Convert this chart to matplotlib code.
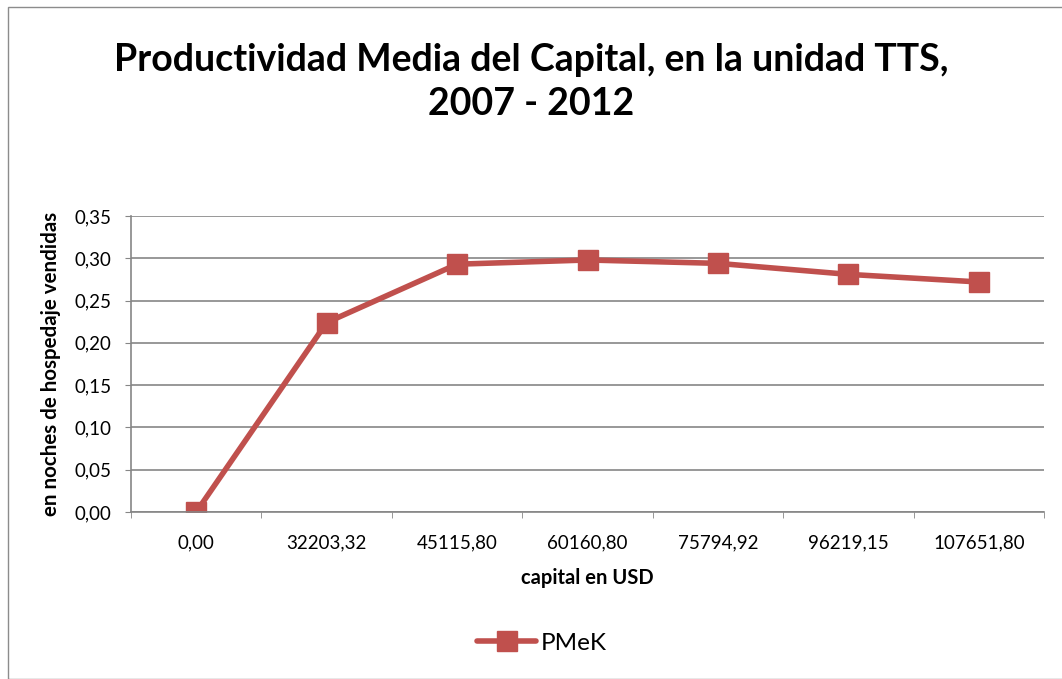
import matplotlib
matplotlib.use("Agg")
import matplotlib.pyplot as plt
from matplotlib.patches import Rectangle
from matplotlib.ticker import FixedLocator, FuncFormatter

# Capital (USD) categories and average productivity of capital
capital_labels = ["0,00", "32203,32", "45115,80", "60160,80", "75794,92", "96219,15", "107651,80"]
pmek = [0.0, 0.224, 0.293, 0.298, 0.294, 0.281, 0.272]
series_name = "PMeK"
y_ticks = [0.0, 0.05, 0.10, 0.15, 0.20, 0.25, 0.30, 0.35]

plt.rcParams["font.family"] = ["Lato", "DejaVu Sans"]
red = "#C0504D"
grid_gray = "#868686"

fig = plt.figure(figsize=(10.62, 6.79), dpi=100)
fig.patches.append(Rectangle((8 / 1062, 0), 1.2, 1 - 7 / 679, transform=fig.transFigure,
                             fill=False, edgecolor="#8c8c8c", linewidth=1.0))

ax = fig.add_axes([131 / 1062, 1 - 512 / 679, (1044 - 131) / 1062, (512 - 216) / 679])
x = list(range(len(capital_labels)))
ax.plot(x, pmek, color=red, linewidth=4, marker="s", markersize=14,
        markerfacecolor=red, markeredgecolor=red, label=series_name, solid_capstyle="round")

ax.set_xlim(-0.5, len(capital_labels) - 0.5)
ax.set_ylim(0, 0.35)
ax.yaxis.set_major_locator(FixedLocator(y_ticks))
ax.yaxis.set_major_formatter(FuncFormatter(lambda v, p: f"{v:.2f}".replace(".", ",")))
ax.set_xticks(x)
ax.set_xticklabels(capital_labels)
ax.set_xticks([i + 0.5 for i in range(-1, len(capital_labels))], minor=True)
ax.tick_params(axis="x", which="major", length=0, pad=16, labelsize=13.5)
ax.tick_params(axis="x", which="minor", length=4.5, color=grid_gray, direction="out")
ax.tick_params(axis="y", length=4.5, color=grid_gray, direction="out", labelsize=13.5, pad=9.5)
ax.grid(axis="y", color=grid_gray, linewidth=1.2)
ax.set_axisbelow(True)
for s in ["top", "right"]:
    ax.spines[s].set_visible(False)
for s in ["left", "bottom"]:
    ax.spines[s].set_color(grid_gray)
    ax.spines[s].set_linewidth(1.2)

ax.set_xlabel("capital en USD", fontsize=14.5, fontweight="bold", labelpad=12)
ax.set_ylabel("en noches de hospedaje vendidas", fontsize=14.8, fontweight="bold", labelpad=10)

fig.text(0.5, 1 - 60 / 679, "Productividad Media del Capital, en la unidad TTS,",
         ha="center", va="center", fontsize=27, fontweight="bold")
fig.text(0.5, 1 - 104 / 679, "2007 - 2012", ha="center", va="center", fontsize=27, fontweight="bold")

fig.legend(loc="center", bbox_to_anchor=(542 / 1062, 1 - 643 / 679), frameon=False,
           fontsize=17.5, handlelength=2.4, markerscale=1.0, handletextpad=0.2)

fig.savefig("out.png", dpi=100)
